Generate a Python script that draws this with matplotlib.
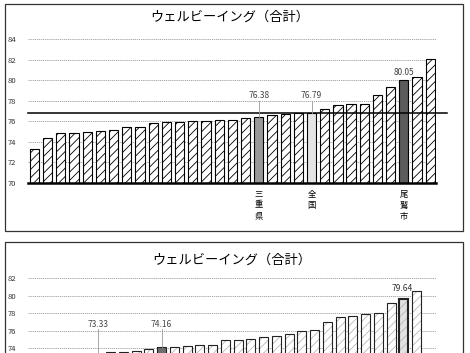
import numpy as np
import matplotlib
matplotlib.use('Agg')
import matplotlib.pyplot as plt
from matplotlib.patches import Rectangle

plt.rcParams['font.family'] = ['Noto Sans CJK JP', 'DejaVu Sans']
plt.rcParams['hatch.linewidth'] = 0.6

# data
title = 'ウェルビーイング（合計）'
top_vals = [73.3, 74.4, 74.8, 74.8, 74.95, 75.0, 75.1, 75.4, 75.45, 75.8,
            75.9, 75.95, 76.0, 76.05, 76.1, 76.15, 76.3, 76.38, 76.6, 76.65,
            76.75, 76.79, 77.15, 77.6, 77.65, 77.65, 78.55, 79.3, 80.05, 80.25,
            82.05]
top_names = [''] * 31
top_names[17] = '三重県'
top_names[21] = '全国'
top_names[28] = '尾鷲市'
top_labels = {17: '76.38', 21: '76.79', 28: '80.05'}

bot_vals = [71.6, 72.3, 72.7, 73.0, 73.2, 73.33, 73.54, 73.6, 73.73, 73.88,
            74.16, 74.18, 74.23, 74.4, 74.42, 74.9, 75.0, 75.06, 75.3, 75.4,
            75.6, 75.97, 76.1, 77.0, 77.54, 77.73, 77.89, 78.03, 79.2, 79.64,
            80.58]
bot_labels = {5: '73.33', 10: '74.16', 29: '79.64'}

top_ticks = np.arange(70, 85, 2)
bot_ticks = np.arange(74, 83, 2)   # lower ticks fall off the page

W, H = 470, 353
fig = plt.figure(figsize=(4.7, 3.53), dpi=100)


def px_axes(left, top, right, bottom):
    return fig.add_axes([left / W, 1 - bottom / H, (right - left) / W, (bottom - top) / H])


def style_axes(ax, ticks, ymin):
    for s in ['top', 'right', 'left']:
        ax.spines[s].set_visible(False)
    ax.spines['bottom'].set_linewidth(1.8)
    ax.set_yticks(ticks)
    ax.set_ylim(ymin, ticks[-1])
    ax.yaxis.grid(True, color='#9a9a9a', linewidth=0.6, linestyle=(0, (1.5, 1)))
    ax.set_axisbelow(True)
    ax.tick_params(axis='y', length=0, labelsize=5.5, pad=8, colors='#333333')
    ax.tick_params(axis='x', length=0)


# frames around the two charts
fig.add_artist(Rectangle((5 / W, 1 - 231 / H), 458 / W, 227 / H,
                         transform=fig.transFigure, fill=False, ec='#333333', lw=0.9))
fig.add_artist(Rectangle((4.5 / W, -0.1), 458.5 / W, 1 - 241.5 / H + 0.1,
                         transform=fig.transFigure, fill=False, ec='#333333', lw=0.9))

# ---- top chart
ax1 = px_axes(27.5, 39, 435.5, 182.7)
style_axes(ax1, top_ticks, 70)
x = np.arange(len(top_vals))
bars = ax1.bar(x, top_vals, width=0.7, color='white', edgecolor='black', linewidth=0.8)
fills = {17: '#999999', 21: '#e4e4e4', 28: '#5c5c5c'}
for i, b in enumerate(bars):
    if i in fills:
        b.set_facecolor(fills[i])
    else:
        b.set_hatch('////')
ax1.set_xlim(-0.53, 30.4)
ax1.set_xticks(x)
ax1.set_xticklabels(['\n'.join(n) for n in top_names], fontsize=6, linespacing=1.3)
ax1.tick_params(axis='x', pad=5)

# national average line
xl = ax1.get_xlim()
ax1.plot([xl[0], xl[1] + 0.87], [top_vals[21]] * 2, color='black', lw=1.1, clip_on=False)

for i, txt in top_labels.items():
    ly = 80.78 if top_vals[i] > 79 else 78.54
    ax1.text(i, ly, txt, ha='center', va='center', fontsize=6, color='#444444')
    if top_vals[i] < 79:
        ax1.plot([i, i], [77.95, top_vals[i]], color='#999999', lw=0.6)

fig.text(230 / W, 1 - 17 / H, title, ha='center', va='center', fontsize=9.5)

# ---- bottom chart (cut off by the page edge)
ax2 = px_axes(27.5, 278.3, 435.5, 383.3)
style_axes(ax2, bot_ticks, 70)
ax2.set_yticks(np.arange(70, 83, 2), minor=True)
ax2.yaxis.grid(True, which='minor', color='#9a9a9a', linewidth=0.6, linestyle=(0, (1.5, 1)))
ax2.tick_params(axis='y', which='minor', length=0)
x2 = np.arange(len(bot_vals))
hb = ax2.bar(x2, bot_vals, width=0.7, color='white', edgecolor='#b8b8b8', linewidth=0)
for i, b in enumerate(hb):
    if i == 10:
        b.set_facecolor('#6e6e6e')
    else:
        if i == 29:
            b.set_facecolor('#e2e2e2')
        b.set_hatch('////')
ob = ax2.bar(x2, bot_vals, width=0.7, fill=False, edgecolor='#222222', linewidth=0.8)
ob[29].set_linewidth(1.5)
ax2.set_xlim(-0.52, 31.48)
ax2.set_xticks([])

for i, txt in bot_labels.items():
    if i == 29:
        ax2.text(i - 0.15, 80.78, txt, ha='center', va='center', fontsize=6, color='#333333')
    else:
        ax2.text(i, 76.74, txt, ha='center', va='center', fontsize=6, color='#444444')
        ax2.plot([i, i], [76.2, bot_vals[i]], color='#999999', lw=0.6)

fig.text(232 / W, 1 - 260 / H, title, ha='center', va='center', fontsize=9.5)

fig.savefig('out.png', dpi=100)
